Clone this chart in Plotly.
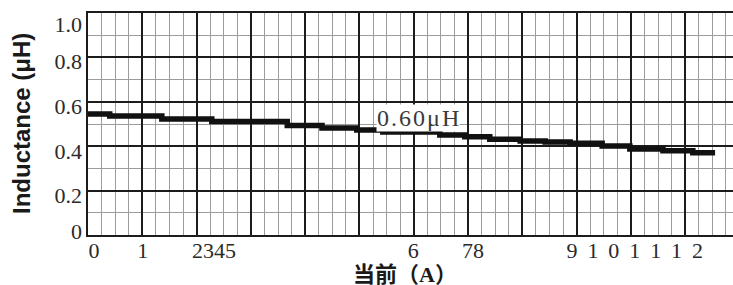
import plotly.graph_objects as go

# ---- data ----
current_a = [0, 0.4, 1.36, 2.28, 3.67, 4.31, 4.95, 5.43, 6.48, 6.94, 7.4, 7.96,
             8.42, 8.88, 9.47, 9.98, 10.59, 11.14, 11.55]
inductance_uh = [0.545, 0.536, 0.523, 0.511, 0.493, 0.482, 0.473, 0.464, 0.450,
                 0.443, 0.431, 0.423, 0.419, 0.413, 0.401, 0.387, 0.380, 0.371, 0.371]

x_tick_text = ["0", "1", "2345", "6", "78",
               "9\u00a0\u20091\u00a0\u20090\u00a0\u20091\u00a0\u20091\u00a0\u20091\u00a0\u20092"]
x_tick_pos = [0.11, 1.01, 2.32, 5.99, 7.09, 10.07]

y_tick_vals = [0, 0.2, 0.4, 0.6, 0.8, 1.0]
y_tick_text = ["0", "0.2", "0.4", "0.6", "0.8", "1.0"]
y_label_nudge_px = [-4, 5, 5, 4.5, 3.5, 11.5]   # labels sit slightly off the grid lines

note_text = "0.60\u03bcH"
note_x, note_y = 6.08, 0.527

x_title = "当前（A）"
y_title = "Inductance (μH)"

# ---- layout constants ----
W, H = 733, 285
ML, MR, MT, MB = 88, 0, 13, 50
X_RANGE = [0, 11.88]
Y_RANGE = [0, 1.0]
PLOT_W = W - ML - MR
PLOT_H = H - MT - MB

DARK = "#1c1c1c"
MINOR = "#9c9c9c"
SERIF = "Liberation Serif, Times New Roman, serif"

fig = go.Figure()
fig.add_trace(go.Scatter(
    x=current_a, y=inductance_uh, mode="lines", line_shape="hv",
    line=dict(color="#111111", width=5.5), showlegend=False, hoverinfo="skip"))
fig.add_trace(go.Scatter(x=[None], y=[None], xaxis="x2", yaxis="y2",
                         showlegend=False, hoverinfo="skip"))

y_label_pos = [v - n / PLOT_H for v, n in zip(y_tick_vals, y_label_nudge_px)]

fig.update_layout(
    width=W, height=H,
    margin=dict(l=ML, r=MR, t=MT, b=MB, pad=0, autoexpand=False),
    paper_bgcolor="white", plot_bgcolor="white",
    xaxis=dict(range=X_RANGE, tick0=0, dtick=1, showgrid=True, gridcolor=DARK,
               gridwidth=1.6, showticklabels=False, zeroline=False,
               showline=True, linecolor=DARK, linewidth=2, mirror=True,
               automargin=False,
               minor=dict(dtick=0.25, showgrid=True, gridcolor=MINOR, gridwidth=1.3),
               fixedrange=True),
    yaxis=dict(range=Y_RANGE, tick0=0, dtick=0.2, showgrid=True, gridcolor=DARK,
               gridwidth=1.6, showticklabels=False, zeroline=False,
               showline=True, linecolor=DARK, linewidth=2, automargin=False,
               minor=dict(dtick=0.1, showgrid=True, gridcolor=MINOR, gridwidth=1.3),
               fixedrange=True),
    xaxis2=dict(range=X_RANGE, overlaying="x", anchor="y", side="bottom",
                tickmode="array", tickvals=x_tick_pos, ticktext=x_tick_text,
                showgrid=False, zeroline=False, showline=False, ticks="",
                ticklabelstandoff=0, automargin=False, fixedrange=True,
                tickfont=dict(family=SERIF, size=22, color="#2a2a2a")),
    yaxis2=dict(range=Y_RANGE, overlaying="y", anchor="x", side="left",
                tickmode="array", tickvals=y_label_pos, ticktext=y_tick_text,
                showgrid=False, zeroline=False, showline=False, ticks="",
                ticklabelstandoff=5, automargin=False, fixedrange=True,
                tickfont=dict(family=SERIF, size=22, color="#2a2a2a")),
    annotations=[
        dict(text="\u200a".join(note_text), x=note_x, y=note_y, xref="x", yref="y",
             showarrow=False, bgcolor="white", borderpad=0,
             font=dict(family=SERIF, size=24, color="#3a3a3a")),
        dict(text=y_title, x=(21 - ML) / PLOT_W, y=0.5, xref="paper", yref="paper",
             textangle=-90, showarrow=False, xanchor="center", yanchor="middle",
             font=dict(family="Liberation Sans, Arial, sans-serif", size=24,
                       color="#1a1a1a", weight="bold")),
        dict(text=x_title, x=(405 - ML) / PLOT_W, y=(H - MB - 274) / PLOT_H,
             xref="paper", yref="paper", showarrow=False,
             xanchor="center", yanchor="middle",
             font=dict(family="Liberation Serif, Noto Sans CJK SC", size=22,
                       color="#1a1a1a", weight="bold")),
    ],
)

fig.write_html("out.html", config={"displayModeBar": False},
               post_script="document.body.style.margin='0';document.body.style.padding='0';")
